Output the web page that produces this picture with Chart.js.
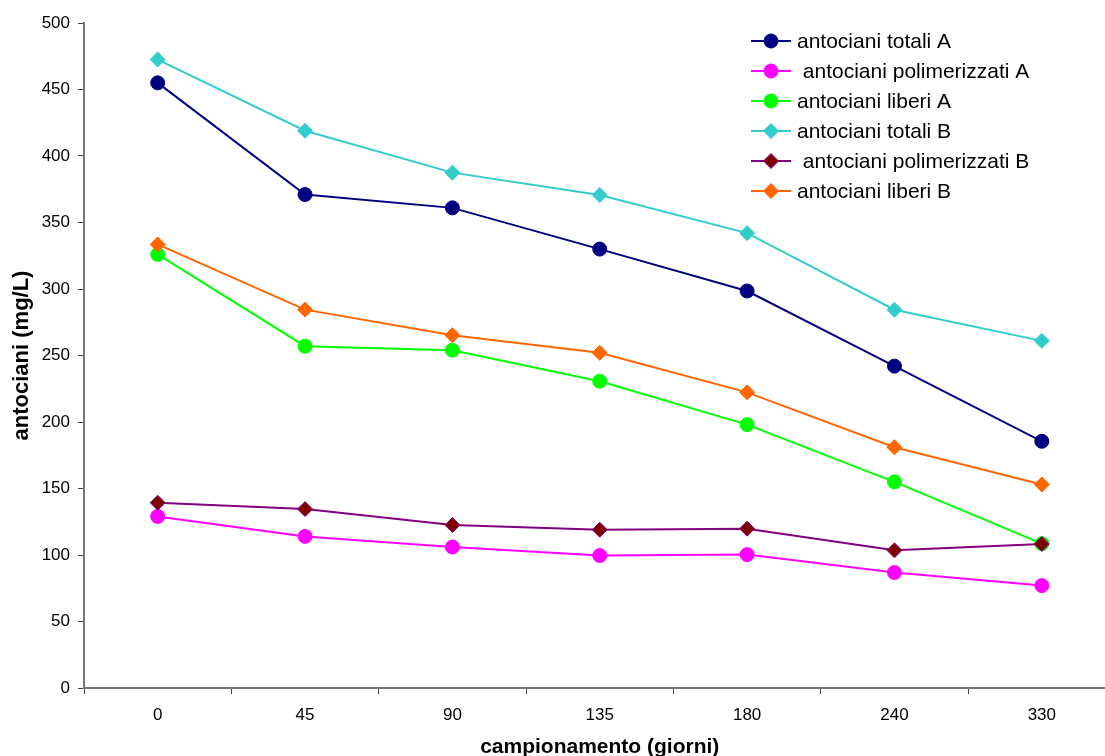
<!DOCTYPE html>
<html><head><meta charset="utf-8">
<script src="https://cdn.jsdelivr.net/npm/chart.js@4"></script>
<style>html,body{margin:0;padding:0;overflow:hidden;background:#fff}canvas{display:block}</style>
</head><body>
<canvas id="c" width="1124" height="770"></canvas>
<script>
const categories = ['0','45','90','135','180','240','330'];
const totaliA = [455, 371, 361, 330, 298.5, 242, 185.5];
const polimerizzatiA = [129, 114, 106, 99.6, 100.3, 86.8, 77];
const liberiA = [326, 257, 254, 230.6, 198, 155, 108.5];
const totaliB = [472.5, 419, 387.5, 370.7, 342, 284.4, 261];
const polimerizzatiB = [139.3, 134.5, 122.5, 119, 119.8, 103.5, 108.3];
const liberiB = [333.5, 284.5, 265.3, 252, 222.3, 181, 153];
const seriesNames = ['antociani totali A', ' antociani polimerizzati A', 'antociani liberi A', 'antociani totali B', ' antociani polimerizzati B', 'antociani liberi B'];
const yMin = 0, yMax = 500, yStep = 50;

const FONT = "'Liberation Sans', Arial, sans-serif";
const styles = [
  {line:'#000080', fill:'#000080', stroke:'#000080', shape:'circle'},
  {line:'#FF00FF', fill:'#FF00FF', stroke:'#FF00FF', shape:'circle'},
  {line:'#00FF00', fill:'#00FF00', stroke:'#00FF00', shape:'circle'},
  {line:'#33CCCC', fill:'#33CCCC', stroke:'#33CCCC', shape:'rectRot'},
  {line:'#800080', fill:'#800000', stroke:'#800080', shape:'rectRot'},
  {line:'#FF6600', fill:'#FF6600', stroke:'#FF6600', shape:'rectRot'}
];
const values = [totaliA, polimerizzatiA, liberiA, totaliB, polimerizzatiB, liberiB];
const n = values.length;
const datasets = values.map((v, i) => ({
  label: seriesNames[i],
  data: v,
  borderColor: styles[i].line,
  backgroundColor: styles[i].fill,
  pointBackgroundColor: styles[i].fill,
  pointBorderColor: styles[i].stroke,
  pointBorderWidth: 1,
  pointStyle: styles[i].shape,
  pointRadius: styles[i].shape === 'circle' ? 7 : 7.5,
  pointHoverRadius: 7,
  borderWidth: 2,
  tension: 0,
  fill: false,
  order: n - 1 - i
}));

const legendPlugin = {
  id: 'customLegend',
  afterDraw(chart) {
    const ctx = chart.ctx;
    ctx.save();
    const x0 = 751, x1 = 791, xm = 771, xt = 797;
    const ys = [41, 71, 101, 131, 161, 191];
    chart.data.datasets.forEach((ds, i) => {
      const y = ys[i];
      ctx.strokeStyle = ds.borderColor;
      ctx.lineWidth = 2;
      ctx.beginPath(); ctx.moveTo(x0, y); ctx.lineTo(x1, y); ctx.stroke();
      ctx.fillStyle = ds.pointBackgroundColor;
      ctx.strokeStyle = ds.pointBorderColor;
      ctx.lineWidth = 1;
      ctx.beginPath();
      if (ds.pointStyle === 'circle') {
        ctx.arc(xm, y, 7, 0, Math.PI * 2);
      } else {
        const r = 7.5;
        ctx.moveTo(xm, y - r); ctx.lineTo(xm + r, y); ctx.lineTo(xm, y + r); ctx.lineTo(xm - r, y); ctx.closePath();
      }
      ctx.fill(); ctx.stroke();
      ctx.fillStyle = '#000';
      ctx.font = '21px ' + FONT;
      ctx.textBaseline = 'middle';
      ctx.textAlign = 'left';
      ctx.fillText(ds.label, xt, y + 1);
    });
    ctx.restore();
  }
};

new Chart(document.getElementById('c'), {
  type: 'line',
  data: { labels: categories, datasets },
  options: {
    responsive: false,
    animation: false,
    devicePixelRatio: 1,
    layout: { padding: { top: 23, right: 2, left: 0, bottom: 0 } },
    plugins: { legend: { display: false }, tooltip: { enabled: false } },
    scales: {
      x: {
        type: 'category',
        offset: true,
        grid: { offset: true, drawOnChartArea: false, drawTicks: true, tickLength: 6, color: '#444' },
        border: { display: true, color: '#777', width: 2 },
        ticks: { color: '#000', font: { family: FONT, size: 17 }, padding: 11, maxRotation: 0 },
        title: { display: true, text: 'campionamento (giorni)', color: '#000', font: { family: FONT, size: 21, weight: 'bold' }, padding: { top: 0, bottom: 10 } },
        afterFit(scale) { scale.height = 82; }
      },
      y: {
        min: yMin, max: yMax,
        grid: { drawOnChartArea: false, drawTicks: true, tickLength: 6, color: '#444' },
        border: { display: true, color: '#777', width: 2 },
        ticks: { stepSize: yStep, color: '#000', font: { family: FONT, size: 17 }, padding: 8 },
        title: { display: true, text: 'antociani (mg/L)', color: '#000', font: { family: FONT, size: 22, weight: 'bold' }, padding: { top: 9, bottom: 0 } },
        afterFit(scale) { scale.width = 84; }
      }
    }
  },
  plugins: [legendPlugin]
});
</script>
</body></html>
